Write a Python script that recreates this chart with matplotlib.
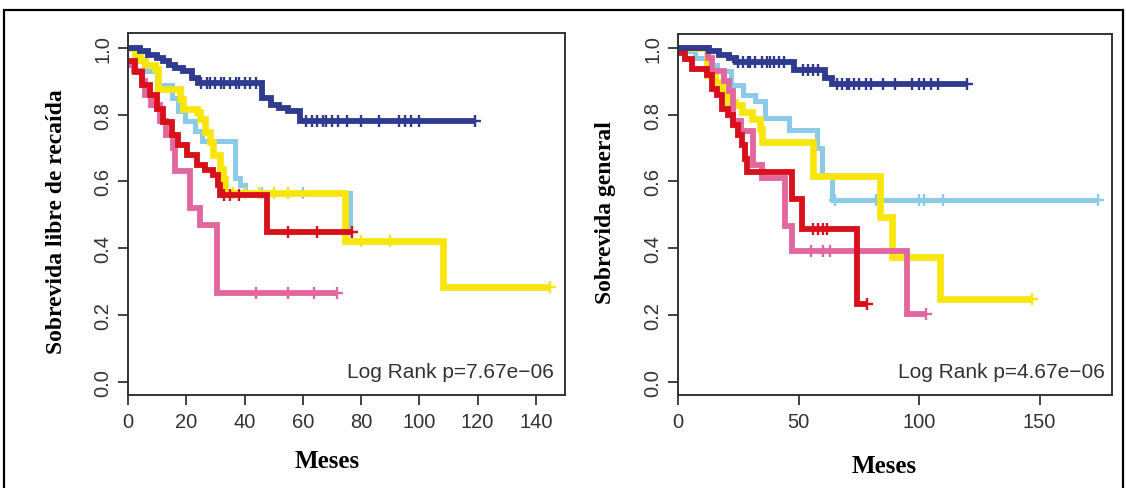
import matplotlib
matplotlib.use('Agg')
import matplotlib.pyplot as plt
import numpy as np

# colours of the five groups
BLUE = '#2E3B8F'
SKY = '#8CCBE8'
YELLOW = '#F7E50C'
RED = '#D8101C'
PINK = '#E2679E'

# ---- left panel: Sobrevida libre de recaida (months, survival) ----
rfs_blue_t = [0, 4, 7, 10, 12, 14, 16, 19, 22, 24, 46, 49, 52, 55, 59]
rfs_blue_s = [1.0, 0.99, 0.98, 0.97, 0.96, 0.95, 0.94, 0.93, 0.91, 0.895, 0.85, 0.83, 0.82, 0.81, 0.78]
rfs_blue_c = [25, 27, 28, 30, 32, 33, 35, 37, 38, 40, 42, 44, 61, 63, 65, 67, 68, 70, 72, 75,
              80, 86, 93, 95, 97, 100, 119]

rfs_sky_t = [0, 3, 5.8, 10, 15, 17, 19.6, 23, 25.3, 36.7, 38.4, 40, 76.2]
rfs_sky_s = [1.0, 0.96, 0.93, 0.89, 0.85, 0.81, 0.78, 0.75, 0.72, 0.61, 0.59, 0.565, 0.45]
rfs_sky_c = [46, 60, 76.6]

rfs_yellow_t = [0, 2.4, 4.1, 5.8, 9.3, 10.4, 17.8, 19, 23.6, 24.7, 26.4, 28.1, 29.3, 31.6, 32.7, 33.4, 74.5, 108.2]
rfs_yellow_s = [1.0, 0.983, 0.963, 0.948, 0.938, 0.878, 0.848, 0.818, 0.808, 0.788, 0.748, 0.718, 0.678,
                0.638, 0.608, 0.565, 0.423, 0.283]
rfs_yellow_c = [36, 40, 45, 50, 55, 80, 90, 145]

rfs_red_t = [0, 2.4, 4.7, 7.5, 9.8, 12.1, 15, 17.3, 20.1, 23.6, 26.4, 29.3, 31, 31.6, 47.6]
rfs_red_s = [0.96, 0.928, 0.888, 0.858, 0.818, 0.778, 0.738, 0.708, 0.678, 0.648, 0.633, 0.618, 0.588, 0.56, 0.45]
rfs_red_c = [33, 35, 38, 55, 65, 77]

rfs_pink_t = [0, 2, 4.7, 6, 8, 11, 13, 15.5, 16, 21.3, 24.7, 30.4]
rfs_pink_s = [0.95, 0.93, 0.90, 0.86, 0.83, 0.78, 0.74, 0.70, 0.63, 0.52, 0.47, 0.265]
rfs_pink_c = [44, 55, 64, 71.6]

# ---- right panel: Sobrevida general ----
os_blue_t = [0, 13, 17, 21, 24, 48, 61, 64]
os_blue_s = [1.0, 0.99, 0.98, 0.97, 0.958, 0.933, 0.91, 0.893]
os_blue_c = [25, 27, 29, 30, 32, 35, 37, 38, 40, 42, 44, 52, 54, 56, 58, 66, 68, 70, 71, 73, 75,
             78, 80, 85, 90, 97, 100, 102, 105, 108, 120]

os_sky_t = [0, 4, 7, 12, 16, 22, 27, 32, 36, 46, 57.5, 59.6, 63.8]
os_sky_s = [1.0, 0.99, 0.97, 0.95, 0.93, 0.89, 0.86, 0.84, 0.79, 0.755, 0.70, 0.62, 0.543]
os_sky_c = [65, 82, 100, 102, 110, 174]

os_yellow_t = [0, 11.9, 15.4, 18.1, 20.9, 23.7, 26.4, 30.6, 34, 34.7, 56, 83.8, 88.7, 108.7]
os_yellow_s = [1.0, 0.918, 0.898, 0.868, 0.838, 0.828, 0.808, 0.788, 0.758, 0.718, 0.615, 0.493, 0.373, 0.248]
os_yellow_c = [146.8]

os_red_t = [0, 2.9, 5.7, 11.9, 14, 16, 18.1, 20.9, 23, 25, 26.4, 27.8, 28.5, 47.2, 51.3, 74.1]
os_red_s = [0.985, 0.968, 0.938, 0.918, 0.878, 0.858, 0.818, 0.798, 0.768, 0.738, 0.708, 0.668, 0.628,
            0.548, 0.458, 0.233]
os_red_c = [56, 58, 60, 62, 78.3]

os_pink_t = [0, 12.6, 14, 19, 21, 23, 26, 31.3, 35, 44.4, 47.2, 94.9]
os_pink_s = [1.0, 0.97, 0.93, 0.90, 0.87, 0.78, 0.75, 0.65, 0.61, 0.468, 0.393, 0.203]
os_pink_c = [55, 60, 63, 103]

yticks = [0.0, 0.2, 0.4, 0.6, 0.8, 1.0]
rfs_xticks = [0, 20, 40, 60, 80, 100, 120, 140]
os_xticks = [0, 50, 100, 150]

SANS = 'Liberation Sans'
SERIF = 'Liberation Serif'


def km(ax, t, s, c, color, lw):
    end = max(c)
    ax.step(list(t) + [end], list(s) + [s[-1]], where='post', color=color, lw=lw,
            solid_joinstyle='miter', solid_capstyle='butt')
    idx = np.searchsorted(t, c, side='right') - 1
    ax.plot(c, np.array(s)[idx], '+', color=color, ms=9, mew=1.7)


def style_axes(ax, xmax, xticks):
    ax.set_xlim(0, xmax)
    ax.set_ylim(-0.04, 1.045)
    ax.set_xticks(xticks)
    ax.set_xticklabels([str(v) for v in xticks], fontfamily=SANS, fontsize=14.5, color='#333333')
    ax.set_yticks(yticks)
    ax.set_yticklabels(['%.1f' % v for v in yticks], rotation=90, va='center',
                       fontfamily=SANS, fontsize=14.5, color='#333333')
    ax.tick_params(direction='out', length=7.5, width=1.3, color='#333333')
    ax.tick_params(axis='x', pad=5)
    ax.tick_params(axis='y', pad=4)
    for sp in ax.spines.values():
        sp.set_linewidth(1.4)
        sp.set_color('#333333')


fig = plt.figure(figsize=(11.26, 4.89), dpi=100)
W, H = 1126.0, 489.0

ax1 = fig.add_axes([128 / W, 1 - 396 / H, (565 - 128) / W, (396 - 34) / H])
km(ax1, rfs_sky_t, rfs_sky_s, rfs_sky_c, SKY, 3.6)
km(ax1, rfs_yellow_t, rfs_yellow_s, rfs_yellow_c, YELLOW, 4.8)
km(ax1, rfs_pink_t, rfs_pink_s, rfs_pink_c, PINK, 4.2)
km(ax1, rfs_red_t, rfs_red_s, rfs_red_c, RED, 4.2)
km(ax1, rfs_blue_t, rfs_blue_s, rfs_blue_c, BLUE, 4.2)
style_axes(ax1, 150, rfs_xticks)
ax1.text(0.975, 0.04, 'Log Rank p=7.67e\u221206', transform=ax1.transAxes, ha='right', va='bottom',
         fontfamily=SANS, fontsize=15, color='#333333')

ax2 = fig.add_axes([678 / W, 1 - 396 / H, (1112 - 678) / W, (396 - 35) / H])
km(ax2, os_sky_t, os_sky_s, os_sky_c, SKY, 3.6)
km(ax2, os_yellow_t, os_yellow_s, os_yellow_c, YELLOW, 4.8)
km(ax2, os_pink_t, os_pink_s, os_pink_c, PINK, 4.2)
km(ax2, os_red_t, os_red_s, os_red_c, RED, 4.2)
km(ax2, os_blue_t, os_blue_s, os_blue_c, BLUE, 4.2)
style_axes(ax2, 180, os_xticks)
ax2.set_ylim(-0.04, 1.042)
ax2.text(0.983, 0.04, 'Log Rank p=4.67e\u221206', transform=ax2.transAxes, ha='right', va='bottom',
         fontfamily=SANS, fontsize=15, color='#333333')

# axis titles
fig.text(57 / W, 1 - 222 / H, 'Sobrevida libre de recaída', rotation=90, ha='center', va='center',
         fontfamily=SERIF, fontweight='bold', fontsize=17)
fig.text(606 / W, 1 - 213 / H, 'Sobrevida general', rotation=90, ha='center', va='center',
         fontfamily=SERIF, fontweight='bold', fontsize=17)
fig.text(327 / W, 1 - 462 / H, 'Meses', ha='center', va='center',
         fontfamily=SERIF, fontweight='bold', fontsize=18)
fig.text(884 / W, 1 - 467 / H, 'Meses', ha='center', va='center',
         fontfamily=SERIF, fontweight='bold', fontsize=18)

# outer frame of the figure
frame = plt.Rectangle((4 / W, -0.05), (1123 - 4) / W, 1.05 - 10.5 / H, transform=fig.transFigure,
                      fill=False, lw=1.6, edgecolor='black')
fig.add_artist(frame)

fig.savefig('out.png', dpi=100)
